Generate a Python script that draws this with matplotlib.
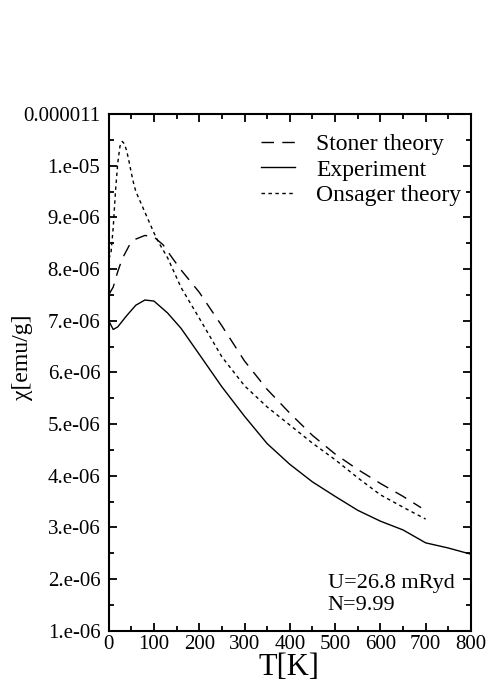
import matplotlib
matplotlib.use("Agg")
import matplotlib.pyplot as plt
from matplotlib.ticker import MultipleLocator

plt.rcParams['font.family'] = ['Liberation Serif', 'DejaVu Serif']

# Experiment (solid)
T_exp = [0, 10, 20, 40, 60, 80, 100, 130, 160, 200, 250, 300, 350, 400,
         450, 500, 550, 600, 650, 700, 750, 800]
chi_exp = [7.00, 6.83, 6.88, 7.10, 7.30, 7.40, 7.38, 7.15, 6.85, 6.35, 5.72,
           5.15, 4.62, 4.22, 3.88, 3.60, 3.33, 3.12, 2.95, 2.70, 2.60, 2.48]

# Stoner theory (dashed)
T_st = [0, 10, 20, 30, 45, 60, 80, 100, 120, 140, 160, 200, 250, 300, 350,
        400, 450, 500, 550, 600, 650, 690]
chi_st = [7.50, 7.65, 7.95, 8.20, 8.45, 8.58, 8.65, 8.62, 8.47, 8.22, 7.98,
          7.55, 6.90, 6.22, 5.67, 5.21, 4.78, 4.42, 4.12, 3.85, 3.60, 3.38]

# Onsager theory (dotted)
T_on = [0, 5, 10, 15, 20, 25, 30, 35, 40, 45, 50, 55, 60, 70, 80, 90, 100,
        110, 120, 130, 160, 200, 250, 300, 350, 400, 450, 500, 550, 600, 650,
        700]
chi_on = [8.20, 8.30, 8.80, 9.50, 10.05, 10.38, 10.47, 10.42, 10.28, 10.08,
          9.86, 9.66, 9.50, 9.30, 9.10, 8.90, 8.70, 8.52, 8.37, 8.22, 7.64,
          7.05, 6.30, 5.74, 5.33, 4.98, 4.63, 4.31, 3.96, 3.63, 3.39, 3.16]

ytick_vals = [1e-6, 2e-6, 3e-6, 4e-6, 5e-6, 6e-6, 7e-6, 8e-6, 9e-6, 1e-5, 1.1e-5]
ytick_labels = ['1.e-06', '2.e-06', '3.e-06', '4.e-06', '5.e-06', '6.e-06',
                '7.e-06', '8.e-06', '9.e-06', '1.e-05', '0.000011']
xticks = [0, 100, 200, 300, 400, 500, 600, 700, 800]

fig = plt.figure(figsize=(4.88, 6.87), dpi=100)
ax = fig.add_axes([0.2227, 0.082, 0.7423, 0.752])

ax.plot(T_st, [c * 1e-6 for c in chi_st], color='black', lw=1.0,
        dashes=(9, 6), label='Stoner theory')
ax.plot(T_exp, [c * 1e-6 for c in chi_exp], color='black', lw=1.0,
        label='Experiment')
ax.plot(T_on, [c * 1e-6 for c in chi_on], color='black', lw=1.0,
        dashes=(2.5, 2.5), label='Onsager theory')

ax.set_xlim(0, 800)
ax.set_ylim(1e-6, 1.1e-5)
ax.set_xticks(xticks)
ax.set_xticklabels([str(t) for t in xticks])
ax.set_yticks(ytick_vals)
ax.set_yticklabels(ytick_labels)
ax.xaxis.set_minor_locator(MultipleLocator(50))
ax.yaxis.set_minor_locator(MultipleLocator(5e-7))
ax.tick_params(which='both', direction='in', top=True, right=True,
               labelsize=15, width=1.3)
ax.tick_params(axis='y', pad=6)
ax.tick_params(axis='x', pad=3)
ax.tick_params(which='major', length=6)
ax.tick_params(which='minor', length=3.5)
for s in ax.spines.values():
    s.set_linewidth(1.5)

ax.set_xlabel('T[K]', fontsize=22)
ax.xaxis.set_label_coords(0.498, -0.043)
ax.set_ylabel('χ[emu/g]', fontsize=17)
ax.yaxis.set_label_coords(-0.21, 0.53)

ax.legend(loc='upper right', bbox_to_anchor=(1.0, 0.981), frameon=False,
          fontsize=17, handlelength=1.45, handletextpad=0.9,
          labelspacing=0.18, borderaxespad=0)

ax.text(484, 1.92e-6, 'U=26.8 mRyd', fontsize=16, va='center')
ax.text(484, 1.48e-6, 'N=9.99', fontsize=16, va='center')

fig.savefig('out.png', dpi=100)
